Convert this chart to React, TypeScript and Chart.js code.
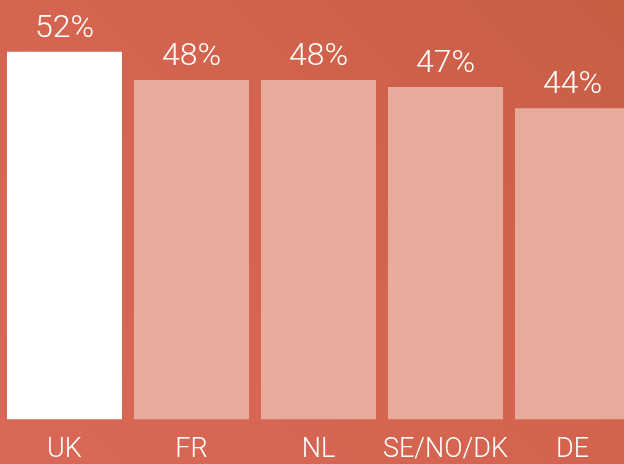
import React, { useEffect, useRef } from "react";
import { Chart, registerables } from "chart.js";

Chart.register(...registerables);

const categories = ["UK", "FR", "NL", "SE/NO/DK", "DE"];
const values = [52, 48, 48, 47, 44];
const barColors = ["#ffffff", "#e8ab9b", "#e8ab9b", "#e8ab9b", "#e8ab9b"];

const valueLabelPlugin = {
  id: "valueLabels",
  afterDatasetsDraw(chart: any) {
    const ctx = chart.ctx;
    const meta = chart.getDatasetMeta(0);
    ctx.save();
    ctx.fillStyle = "#ffffff";
    ctx.font = "300 32px Roboto";
    ctx.textAlign = "center";
    ctx.textBaseline = "alphabetic";
    meta.data.forEach((bar: any, i: number) => {
      ctx.fillText(values[i] + "%", bar.x, bar.y - 15);
    });
    ctx.restore();
  },
};

export default function App() {
  const ref = useRef<HTMLCanvasElement>(null);
  useEffect(() => {
    const chart = new Chart(ref.current!, {
      type: "bar",
      data: {
        labels: categories,
        datasets: [
          {
            data: values,
            backgroundColor: barColors,
            borderWidth: 0,
            barPercentage: 0.906,
            categoryPercentage: 1,
          },
        ],
      },
      options: {
        animation: false,
        responsive: false,
        maintainAspectRatio: false,
        layout: { padding: { left: 1, right: 0, top: 0, bottom: 0 } },
        plugins: { legend: { display: false }, tooltip: { enabled: false } },
        scales: {
          x: {
            grid: { display: false, drawTicks: false },
            border: { display: false },
            ticks: {
              color: "#ffffff",
              font: { family: "Roboto", size: 27, weight: "300" as any },
              padding: 14,
              maxRotation: 0,
              minRotation: 0,
              autoSkip: false,
            },
          },
          y: { display: false, min: 0, max: 59.3 },
        },
      },
      plugins: [valueLabelPlugin],
    });
    return () => chart.destroy();
  }, []);
  return (
    <div
      style={{
        position: "fixed",
        left: 0,
        top: 0,
        width: 624,
        height: 464,
        overflow: "hidden",
        background: "linear-gradient(225deg, #c95d44 0%, #d4644f 50%, #d96858 100%)",
      }}
    >
      <canvas ref={ref} width={636} height={480} style={{ position: "absolute", left: 0, top: 0 }} />
    </div>
  );
}
